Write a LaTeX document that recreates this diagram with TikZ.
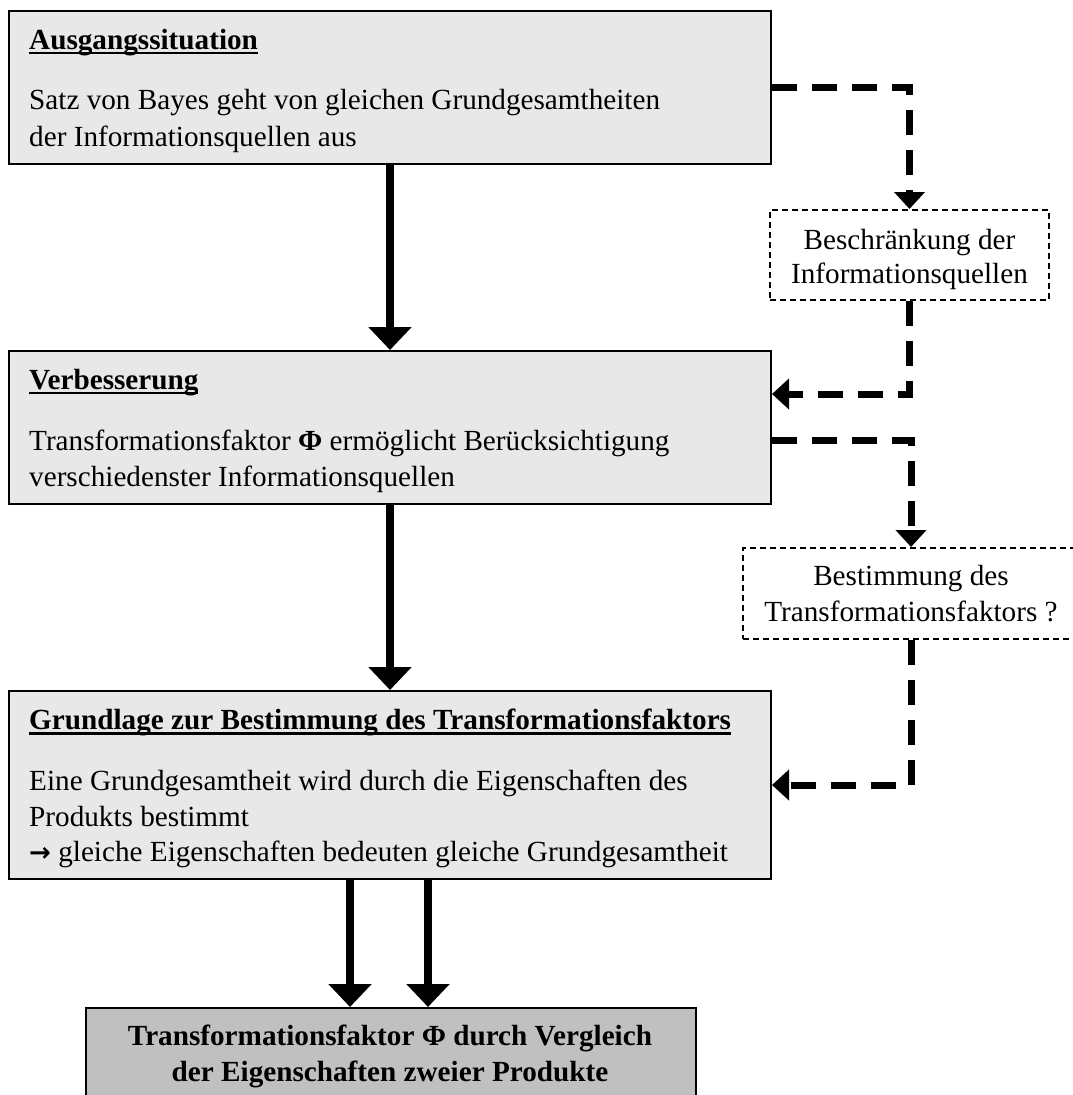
\documentclass[tikz,border=0pt]{standalone}
\usepackage{fontspec}
\setmainfont{Liberation Serif}
\newfontfamily\arrfont{DejaVu Sans}
\usetikzlibrary{arrows.meta}
\definecolor{boxgray}{HTML}{E8E8E8}
\definecolor{resgray}{HTML}{C0C0C0}
\newcommand\myul[1]{\setbox0\hbox{#1}\rlap{\rule[-5pt]{\wd0}{2.5pt}}\box0}
\newcommand\mainsize{\fontsize{29.2}{36.5}\selectfont}
\tikzset{
  mainbox/.style={draw=black, line width=2pt, fill=boxgray, rectangle, inner sep=0pt, anchor=north west},
  resbox/.style={mainbox, fill=resgray},
  dbox/.style={draw=black, line width=2pt, dash pattern=on 6pt off 4pt, fill=white, rectangle, inner sep=0pt},
  txt/.style={anchor=base west, inner sep=0pt, font=\mainsize},
  ctxt/.style={anchor=base, inner sep=0pt, font=\mainsize},
  mainarrow/.style={line width=8pt, -{Triangle[width=42pt,length=23pt]}},
  dasharrow/.style={line width=7pt, dash pattern=on 25pt off 15pt, line join=miter, -{Triangle[width=30pt,length=17pt]}}
}
\begin{document}
\begin{tikzpicture}[x=1pt,y=-1pt]
\useasboundingbox (0,0) rectangle (1072,1095);
% main boxes
\node[mainbox, minimum width=762pt, minimum height=153pt] (b1) at (8,10) {};
\node[mainbox, minimum width=762pt, minimum height=153pt] (b2) at (8,350) {};
\node[mainbox, minimum width=762pt, minimum height=188pt] (b3) at (8,690) {};
\node[resbox, minimum width=610pt, minimum height=110pt] (b4) at (85,1007) {};
% dashed boxes
\node[dbox, minimum width=279pt, minimum height=90pt] (d1) at (909.5,255) {};
\node[dbox, minimum width=336pt, minimum height=91pt] (d2) at (911,593.5) {};
% texts box 1
\node[txt] (b1h) at (29,49) {\myul{\textbf{Ausgangssituation}}};
\node[txt] (b1a) at (29,109.5) {Satz von Bayes geht von gleichen Grundgesamtheiten};
\node[txt] (b1b) at (29,146) {der Informationsquellen aus};
% texts box 2
\node[txt] (b2h) at (29,389) {\myul{\textbf{Verbesserung}}};
\node[txt] (b2a) at (29,450) {Transformationsfaktor \textbf{Φ} ermöglicht Berücksichtigung};
\node[txt] (b2b) at (29,486.5) {verschiedenster Informationsquellen};
% texts box 3
\node[txt] (b3h) at (29,729.5) {\myul{\textbf{Grundlage zur Bestimmung des Transformationsfaktors}}};
\node[txt] (b3a) at (29,790) {Eine Grundgesamtheit wird durch die Eigenschaften des};
\node[txt] (b3b) at (29,826) {Produkts bestimmt};
\node[txt] (b3c) at (29,861.5) {{\arrfont\bfseries\fontsize{26}{30}\selectfont →} gleiche Eigenschaften bedeuten gleiche Grundgesamtheit};
% texts box 4
\node[ctxt] (b4a) at (390,1045) {\textbf{Transformationsfaktor Φ durch Vergleich}};
\node[ctxt] (b4b) at (390,1081.5) {\textbf{der Eigenschaften zweier Produkte}};
% dashed box texts
\node[ctxt] (d1a) at (909.5,249) {Beschränkung der};
\node[ctxt] (d1b) at (909.5,283) {Informationsquellen};
\node[ctxt] (d2a) at (911,585) {Bestimmung des};
\node[ctxt] (d2b) at (911,621.5) {Transformationsfaktors ?};
% main arrows
\draw[mainarrow] (b1.south) -- (b2.north);
\draw[mainarrow] (b2.south) -- (b3.north);
\draw[mainarrow] ([xshift=-40pt]b3.south) -- ([xshift=-40pt]b3.south |- b4.north);
\draw[mainarrow] ([xshift=38pt]b3.south) -- ([xshift=38pt]b3.south |- b4.north);
% dashed arrows
\draw[dasharrow] (b1.east) -| (d1.north);
\draw[dasharrow] (d1.south) |- ([yshift=33.5pt]b2.east);
\draw[dasharrow] ([yshift=-12.5pt]b2.east) -| (d2.north);
\draw[dasharrow] (d2.south) |- (b3.east);
\end{tikzpicture}
\end{document}
